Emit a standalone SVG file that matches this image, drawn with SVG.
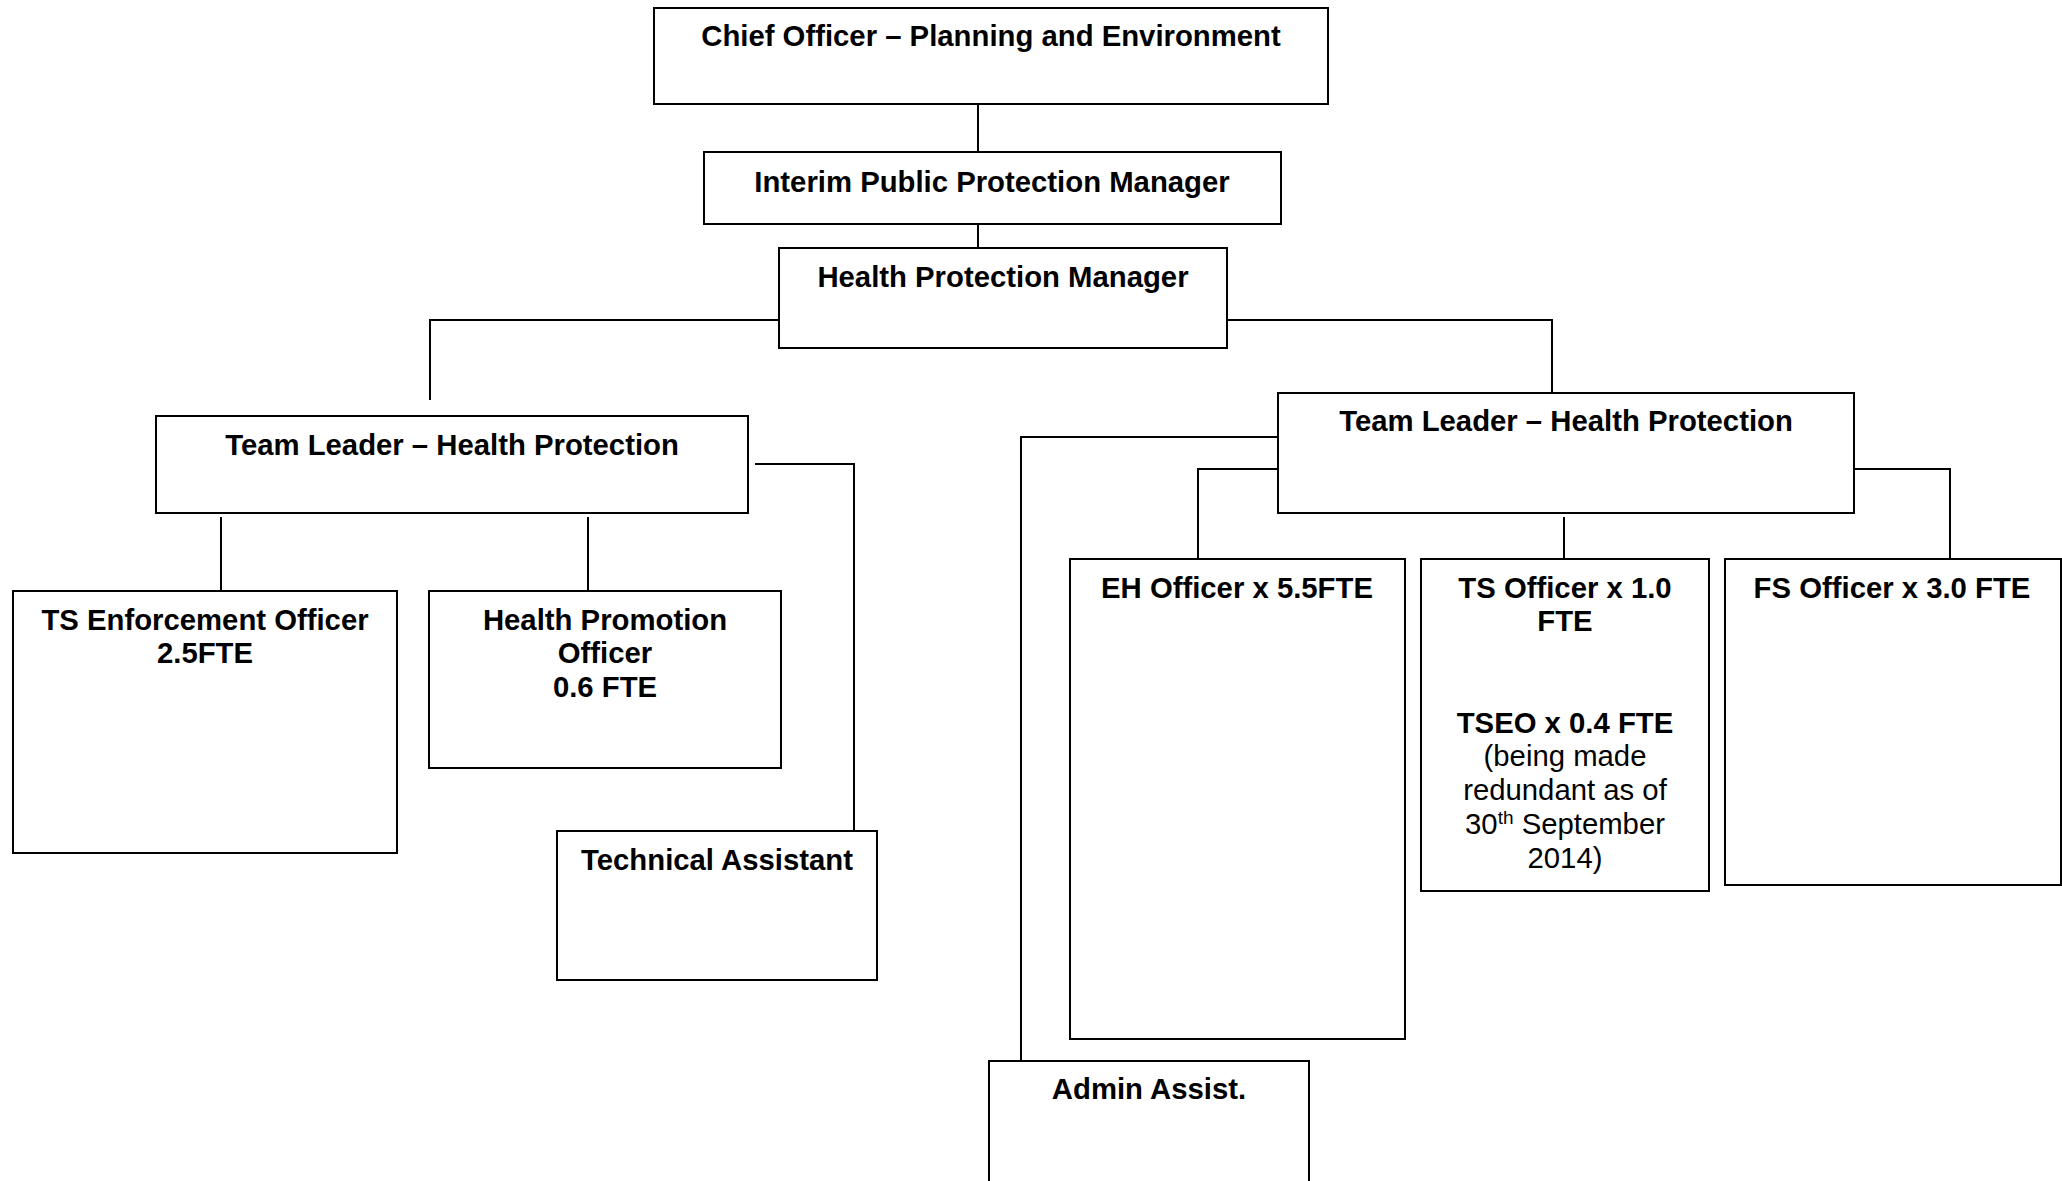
<svg xmlns="http://www.w3.org/2000/svg" width="2062" height="1181" viewBox="0 0 2062 1181">
<style>
.box{fill:#fff;stroke:#000;stroke-width:2}
.ln{fill:none;stroke:#000;stroke-width:2}
text{font-family:"Liberation Sans",Arial,sans-serif;font-size:29.3px;text-anchor:middle;fill:#000}
.b{font-weight:bold}
</style>
<rect width="2062" height="1181" fill="#fff"/>
<g id="connectors">
<line class="ln" x1="978" y1="104" x2="978" y2="152"/>
<line class="ln" x1="978" y1="224" x2="978" y2="248"/>
<polyline class="ln" points="780,320 430,320 430,400"/>
<polyline class="ln" points="1227,320 1552,320 1552,392"/>
<line class="ln" x1="221" y1="517" x2="221" y2="596"/>
<line class="ln" x1="588" y1="517" x2="588" y2="596"/>
<polyline class="ln" points="755,464 854,464 854,848"/>
<polyline class="ln" points="1277,437 1021,437 1021,1061"/>
<polyline class="ln" points="1277,469 1198,469 1198,564"/>
<polyline class="ln" points="1854,469 1950,469 1950,564"/>
<line class="ln" x1="1564" y1="517" x2="1564" y2="564"/>
</g>
<g id="chief"><rect class="box" x="654" y="8" width="674" height="96"/><text class="b" x="991" y="46">Chief Officer – Planning and Environment</text></g>
<g id="interim"><rect class="box" x="704" y="152" width="577" height="72"/><text class="b" x="992" y="192">Interim Public Protection Manager</text></g>
<g id="hpm"><rect class="box" x="779" y="248" width="448" height="100"/><text class="b" x="1003" y="287">Health Protection Manager</text></g>
<g id="tl-left"><rect class="box" x="156" y="416" width="592" height="97"/><text class="b" x="452" y="455">Team Leader – Health Protection</text></g>
<g id="tl-right"><rect class="box" x="1278" y="393" width="576" height="120"/><text class="b" x="1566" y="431">Team Leader – Health Protection</text></g>
<g id="ts-enf"><rect class="box" x="13" y="591" width="384" height="262"/><text class="b" x="205" y="630">TS Enforcement Officer</text><text class="b" x="205" y="663">2.5FTE</text></g>
<g id="hpo"><rect class="box" x="429" y="591" width="352" height="177"/><text class="b" x="605" y="630">Health Promotion</text><text class="b" x="605" y="663">Officer</text><text class="b" x="605" y="697">0.6 FTE</text></g>
<g id="tech"><rect class="box" x="557" y="831" width="320" height="149"/><text class="b" x="717" y="870">Technical Assistant</text></g>
<g id="eh"><rect class="box" x="1070" y="559" width="335" height="480"/><text class="b" x="1237" y="598">EH Officer x 5.5FTE</text></g>
<g id="ts"><rect class="box" x="1421" y="559" width="288" height="332"/><text class="b" x="1565" y="598">TS Officer x 1.0</text><text class="b" x="1565" y="631">FTE</text><text class="b" x="1565" y="733">TSEO x 0.4 FTE</text><text x="1565" y="766">(being made</text><text x="1565" y="800">redundant as of</text><text x="1565" y="834">30<tspan font-size="19" dy="-10">th</tspan><tspan dy="10"> September</tspan></text><text x="1565" y="868">2014)</text></g>
<g id="fs"><rect class="box" x="1725" y="559" width="336" height="326"/><text class="b" x="1892" y="598">FS Officer x 3.0 FTE</text></g>
<g id="admin"><rect class="box" x="989" y="1061" width="320" height="140"/><text class="b" x="1149" y="1099">Admin Assist.</text></g>
</svg>
